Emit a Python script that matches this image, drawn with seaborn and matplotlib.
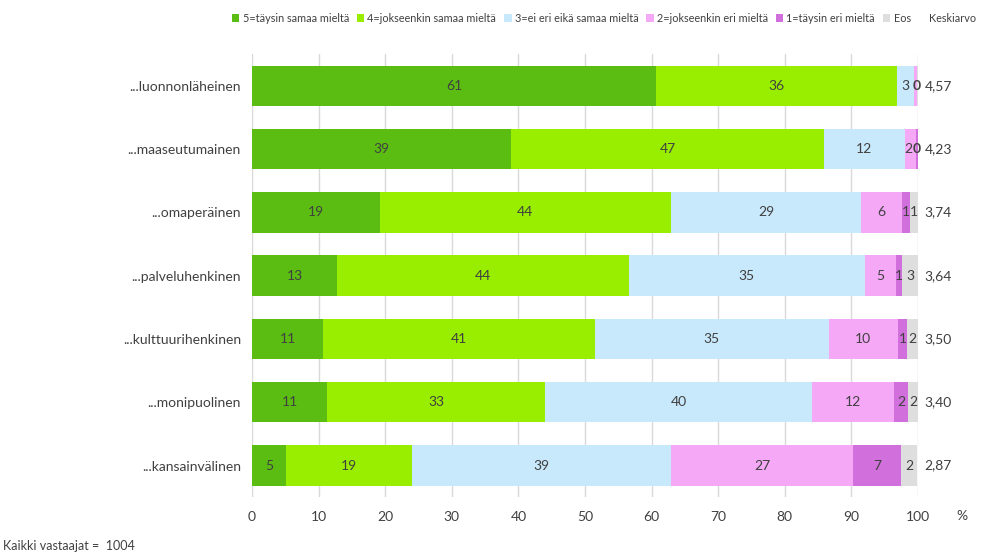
import numpy as np
import pandas as pd
import seaborn as sns
import matplotlib.pyplot as plt
from matplotlib.patches import Patch

sns.set_theme(style="white")
plt.rcParams["font.family"] = ["Lato", "DejaVu Sans"]

categories = ["...luonnonläheinen", "...maaseutumainen", "...omaperäinen",
              "...palveluhenkinen", "...kulttuurihenkinen", "...monipuolinen",
              "...kansainvälinen"]
series = ["5=täysin samaa mieltä", "4=jokseenkin samaa mieltä",
          "3=ei eri eikä samaa mieltä", "2=jokseenkin eri mieltä",
          "1=täysin eri mieltä", "Eos"]
s5 = [60.7, 38.9, 19.2, 12.8, 10.7, 11.3, 5.1]
s4 = [36.1, 47.0, 43.7, 43.8, 40.8, 32.7, 18.9]
s3 = [2.6, 12.1, 28.6, 35.4, 35.1, 40.1, 38.9]
s2 = [0.4, 1.7, 6.1, 4.7, 10.4, 12.3, 27.4]
s1 = [0.1, 0.3, 1.2, 0.9, 1.4, 2.1, 7.2]
eos = [0.1, 0.0, 1.2, 2.6, 1.6, 1.5, 2.4]
means = ["4,57", "4,23", "3,74", "3,64", "3,50", "3,40", "2,87"]
colors = ["#5bbd12", "#99ee00", "#c8e8fb", "#f4a8f6", "#d170dc", "#dedede"]

vals = np.array([s5, s4, s3, s2, s1, eos])
cum = vals.cumsum(axis=0)

fig = plt.figure(figsize=(9.82, 5.53), dpi=100)
ax = fig.add_axes([0.2566, 0.101, 0.6782, 0.801])

# overlay cumulative bars, longest first
for i in range(len(series) - 1, -1, -1):
    df = pd.DataFrame({"cat": categories, "val": cum[i]})
    sns.barplot(data=df, x="val", y="cat", orient="h", color=colors[i],
                width=0.64, saturation=1, linewidth=0, ax=ax)

# segment labels
for i in range(len(series)):
    for j in range(len(categories)):
        v = vals[i, j]
        if j < 2 and v < 1:
            continue
        x = cum[i, j] - v / 2
        if j == 1 and i == 3:
            x -= 0.3
        ax.text(x, j, f"{v:.0f}", ha="center", va="center",
                fontsize=10, color="#404040")

# zero labels squeezed at the end of the top two bars
for j in range(2):
    ax.text(99.8, j, "0", ha="center", va="center", fontsize=10,
            color="#404040", fontweight="bold")

for j, m in enumerate(means):
    ax.text(101, j, m, ha="left", va="center", fontsize=10, color="#404040")

ax.set_xlim(0, 100)
ax.set_ylim(6.5, -0.5)
ax.set_xticks(range(0, 101, 10))
ax.xaxis.grid(True, color="#d9d9d9", linewidth=1)
ax.set_axisbelow(True)
for s in ax.spines.values():
    s.set_visible(False)
ax.set_xlabel("")
ax.set_ylabel("")
ax.tick_params(axis="x", labelsize=10, labelcolor="#404040", pad=10, length=0)
ax.tick_params(axis="y", labelsize=10, labelcolor="#404040", pad=8, length=0)

fig.text(0.985, 0.067, "%", ha="right", va="center", fontsize=10, color="#404040")
fig.text(0.003, 0.013, "Kaikki vastaajat =  1004", ha="left", va="center",
         fontsize=9, color="#404040")

handles = [Patch(facecolor=c, edgecolor="none") for c in colors]
handles.append(Patch(facecolor="none", edgecolor="none"))
labels = series + ["Keskiarvo"]
fig.legend(handles, labels, loc="upper right", bbox_to_anchor=(1.004, 0.995),
           ncol=7, frameon=False, fontsize=7.8,
           handlelength=0.7, handleheight=0.7, handletextpad=0.3,
           columnspacing=0.7, labelcolor="#404040")

fig.savefig("out.png", dpi=100)
